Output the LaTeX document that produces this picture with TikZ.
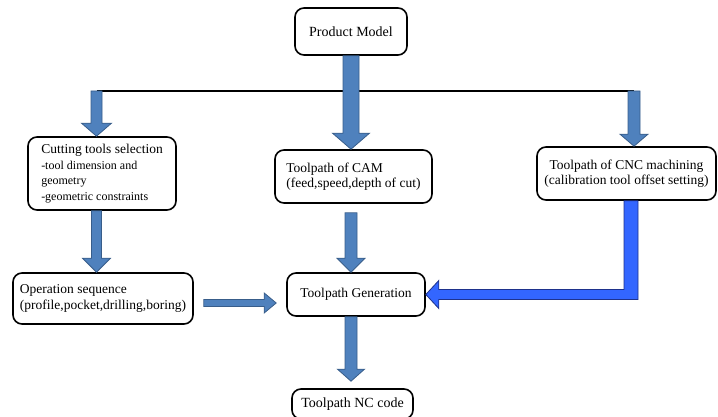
\documentclass[tikz,border=0pt]{standalone}
\usepackage{fontspec}
\setmainfont{Liberation Serif}
\newfontfamily\boxfont{Liberation Serif}
\usetikzlibrary{calc}
\definecolor{steel}{RGB}{79,129,189}
\definecolor{steeldark}{RGB}{56,93,138}
\definecolor{brightblue}{RGB}{51,102,255}
\definecolor{brightdark}{RGB}{30,50,140}
\newcommand{\subtxt}{\fontsize{12}{14}\selectfont}
\newcommand{\fatdown}[5]{%
\filldraw[fatarrow] ($(#1)+(-#3,0)$) -- ($(#2)+(-#3,-#5)$) -- ($(#2)+(-#4,-#5)$) -- (#2) -- ($(#2)+(#4,-#5)$) -- ($(#2)+(#3,-#5)$) -- ($(#1)+(#3,0)$) -- cycle;}

\begin{document}
\begin{tikzpicture}[x=1pt,y=-1pt,
 box/.style={draw, line width=1.6pt, rounded corners=9pt, inner sep=3pt, font=\boxfont\fontsize{13.5}{15.5}\selectfont},
 fatarrow/.style={fill=steel, draw=steeldark, line width=0.8pt},
 cncarrow/.style={fill=brightblue, draw=brightdark, line width=0.8pt}]
\useasboundingbox (0,0) rectangle (718,417);
\node[box, minimum width=112pt, minimum height=47pt, font=\boxfont\fontsize{14}{16}\selectfont] (pm) at (351,31.5) {Product Model};
\node[box, align=left, minimum width=148pt, minimum height=73pt] (cut) at (102,173.5) {Cutting tools selection\\ \subtxt -tool dimension and\\ \subtxt geometry\\ \subtxt -geometric constraints};
\node[box, align=left, minimum width=157pt, minimum height=53pt] (cam) at (353.5,176.5) {Toolpath of CAM\\(feed,speed,depth of cut)};
\node[box, align=center, minimum width=179pt, minimum height=53pt] (cnc) at (626.5,173.5) {Toolpath of CNC machining\\(calibration tool offset setting)};
\node[box, align=left, minimum width=180pt, minimum height=51pt] (op) at (103,298.5) {Operation sequence\\(profile,pocket,drilling,boring)};
\node[box, minimum width=138pt, minimum height=43pt] (gen) at (356,294.5) {Toolpath Generation};
\node[box, minimum width=121pt, minimum height=30pt, font=\boxfont\fontsize{14}{16}\selectfont] (nc) at (352.5,404) {Toolpath NC code};

\coordinate (lt) at (96.5,91);
\coordinate (rt) at (634,91);
\draw[line width=2.2pt] (lt) -- (rt);
\fatdown{pm.south}{pm.south |- cam.north}{8}{18.5}{16}
\fatdown{lt}{lt |- cut.north}{5.5}{15}{13}
\fatdown{rt}{rt |- cnc.north}{6}{14}{12}
\fatdown{lt |- cut.south}{lt |- op.north}{5}{14}{14}
\coordinate (camout) at ($(pm.south |- cam.south)+(0,9)$);
\fatdown{camout}{pm.south |- gen.north}{6}{14}{14}
\coordinate (ncin) at ($(pm.south |- nc.north)+(0,-7)$);
\fatdown{pm.south |- gen.south}{ncin}{6}{13.5}{12}

\coordinate (opout) at ($(op.east)+(10,4.5)$);
\coordinate (genin) at ($(gen.west |- opout)+(-10,0)$);
\filldraw[fatarrow] ($(opout)+(0,-3.5)$) -- ($(genin)+(-12,-3.5)$) -- ($(genin)+(-12,-10)$) -- (genin) -- ($(genin)+(-12,10)$) -- ($(genin)+(-12,3.5)$) -- ($(opout)+(0,3.5)$) -- cycle;

\coordinate (cncout) at ($(cnc.south)+(4.5,0)$);
\coordinate (bend) at (cncout |- gen.east);
\filldraw[cncarrow] ($(cncout)+(-7,0)$) -- ($(bend)+(-7,-5)$) -- ($(gen.east)+(13,-5)$) -- ($(gen.east)+(13,-14)$) -- (gen.east) -- ($(gen.east)+(13,14)$) -- ($(gen.east)+(13,5)$) -- ($(bend)+(7,5)$) -- ($(cncout)+(7,0)$) -- cycle;
\end{tikzpicture}
\end{document}
